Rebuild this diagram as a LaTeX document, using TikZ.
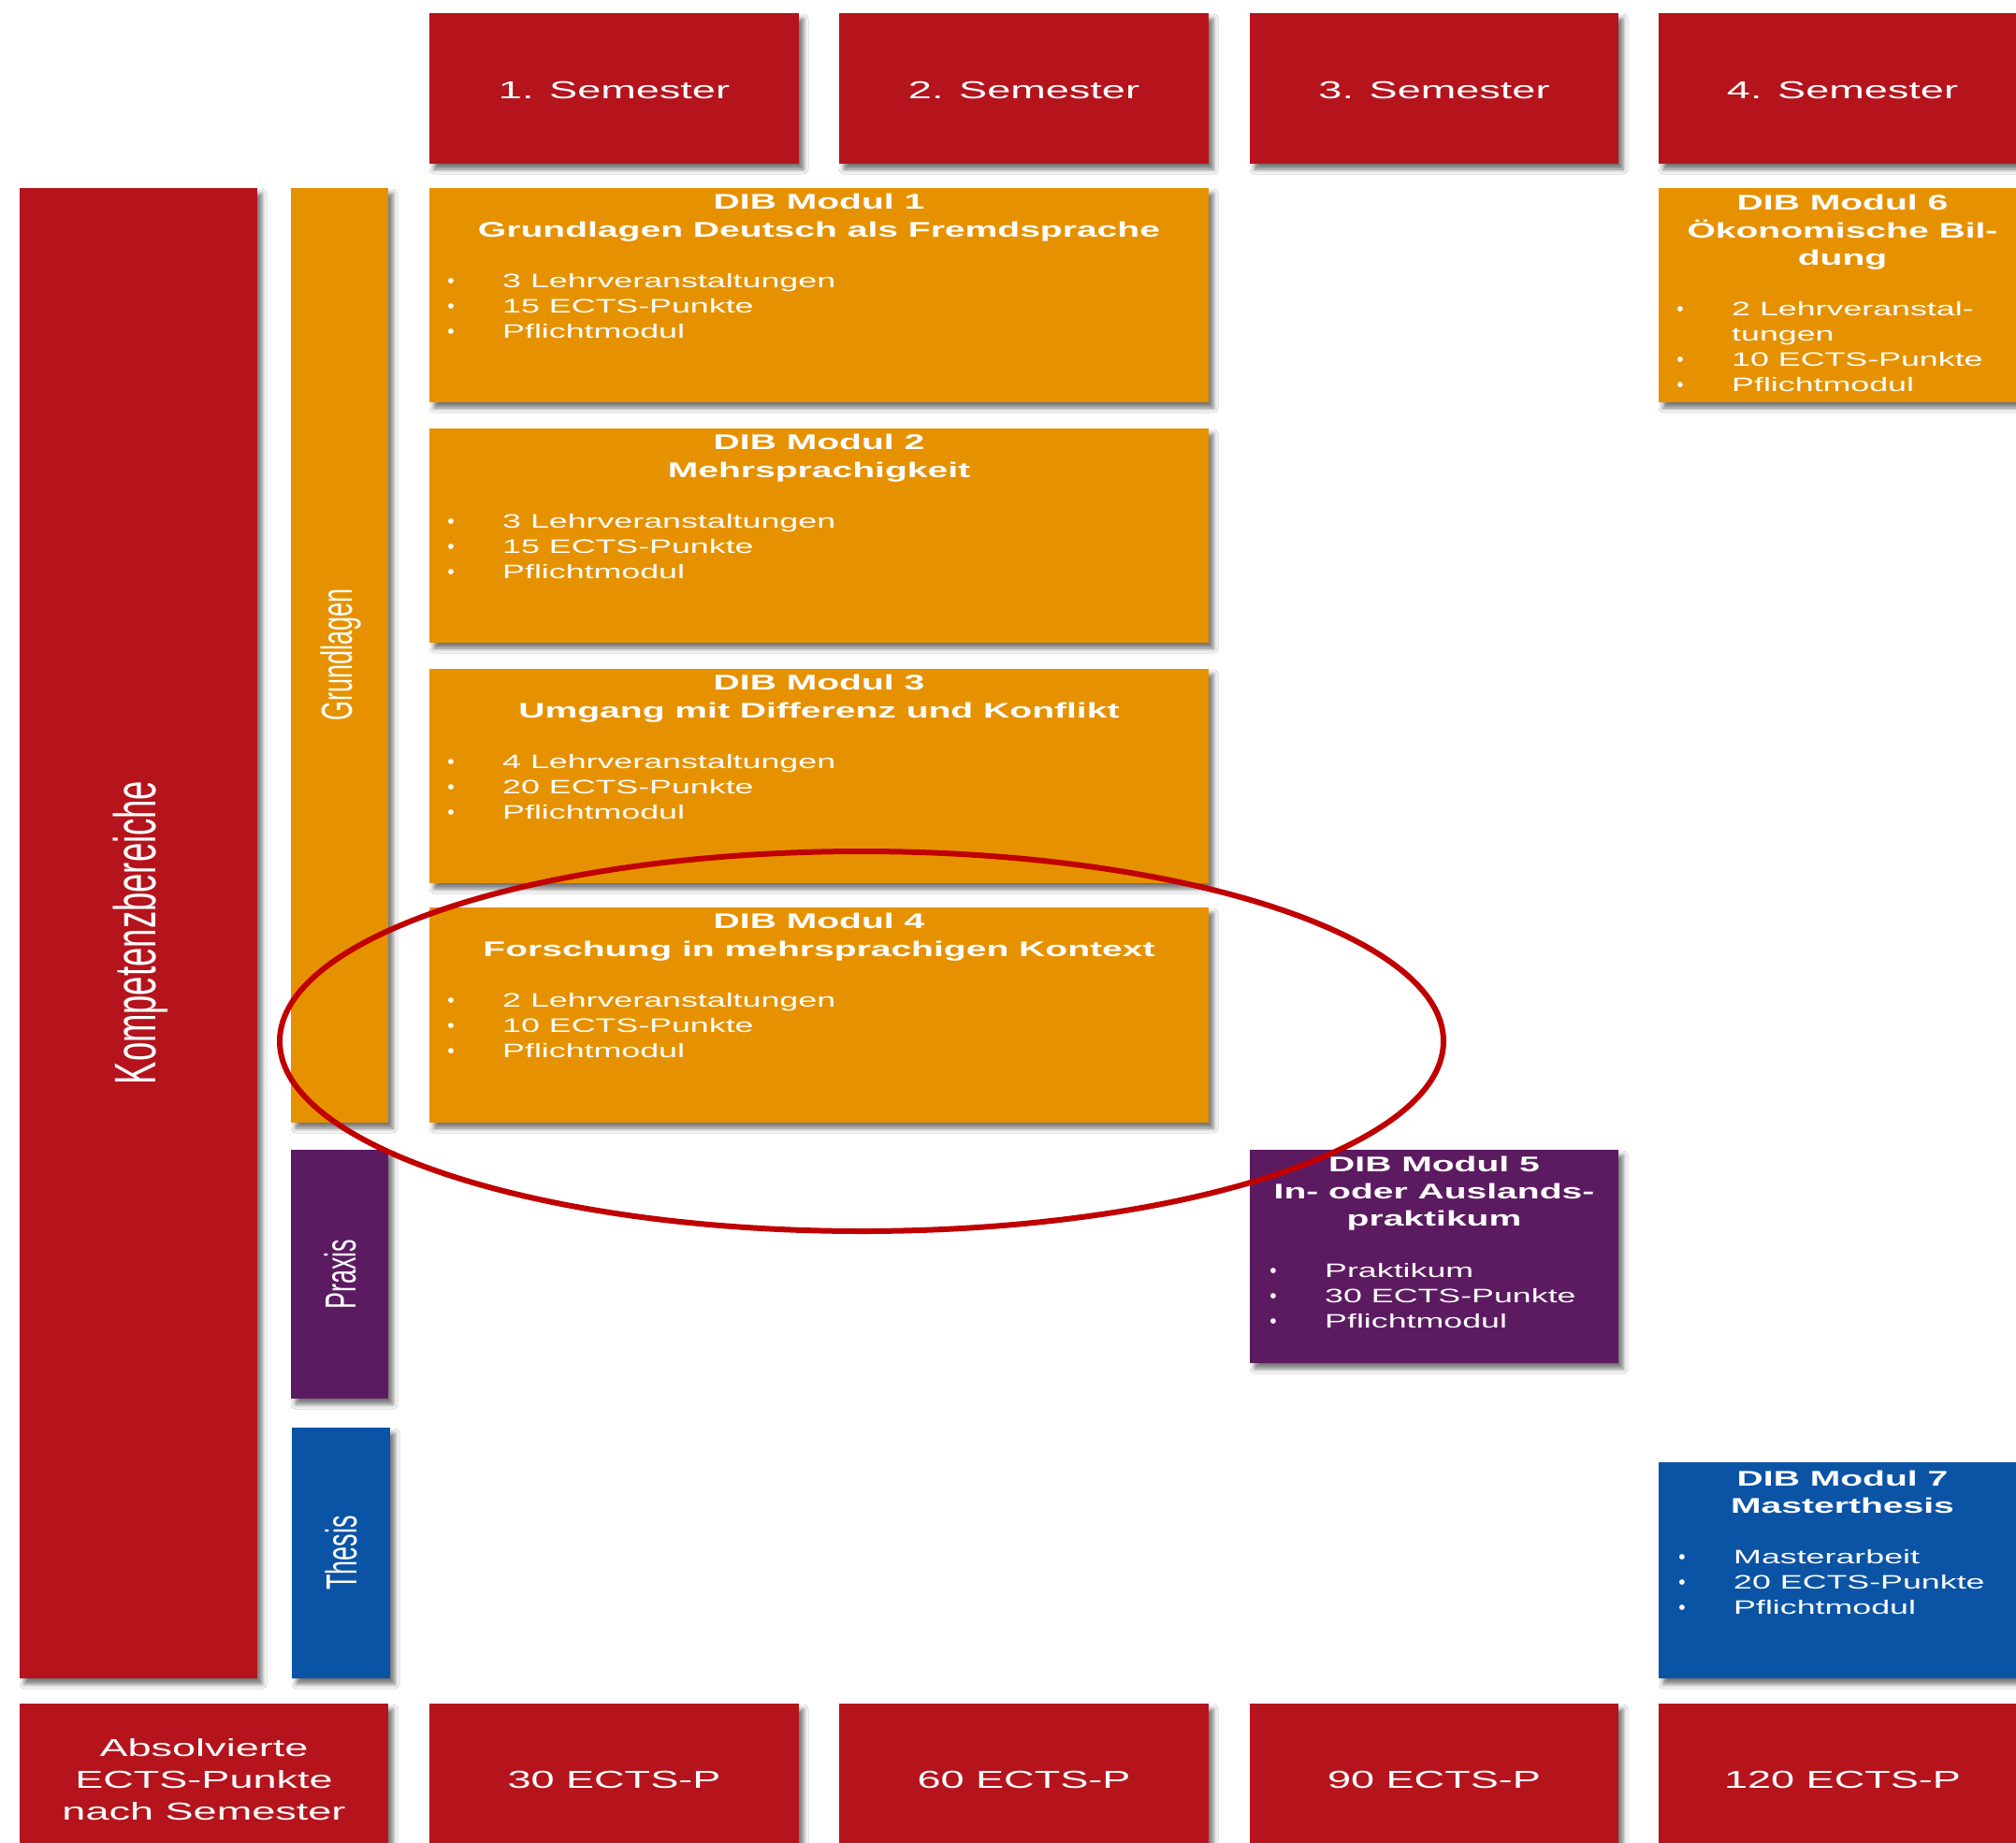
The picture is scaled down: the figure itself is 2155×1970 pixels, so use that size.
\documentclass[tikz,border=0pt]{standalone}
\usepackage{fontspec}
\setmainfont{Liberation Sans}
\newfontfamily\wf[FakeStretch=1.72]{Liberation Sans}
\usetikzlibrary{shadows.blur}
\definecolor{dibred}{HTML}{B5141D}
\definecolor{diborange}{HTML}{E69200}
\definecolor{dibpurple}{HTML}{5C1B60}
\definecolor{dibblue}{HTML}{0B54A5}
\definecolor{ringred}{HTML}{C00000}
\tikzset{
  box/.style={draw=none, inner sep=0pt, outer sep=0pt, anchor=north west,
    blur shadow={shadow xshift=5pt, shadow yshift=-6pt, shadow blur radius=5pt, shadow opacity=55}},
  redbox/.style={box, fill=dibred},
  orbox/.style={box, fill=diborange},
  pubox/.style={box, fill=dibpurple},
  blbox/.style={box, fill=dibblue},
  lbl/.style={text=white, inner sep=0pt, anchor=base, font=\wf\fontsize{26.2}{34}\selectfont},
  ttl/.style={text=white, inner sep=0pt, anchor=base, font=\wf\bfseries\fontsize{22.7}{30}\selectfont},
  itemtext/.style={text=white, inner sep=0pt, anchor=base west, font=\wf\fontsize{20.8}{27}\selectfont},
  bulletdot/.style={text=white, inner sep=0pt, anchor=base, font=\fontsize{21}{24}\selectfont},
  vlbl/.style={text=white, inner sep=0pt, anchor=center},
}
% name, box left x, baseline y, text
\newcommand\moditem[4]{%
  \node[bulletdot] (#1d) at (#2+23,#3) {•};
  \node[itemtext] (#1) at (#2+78,#3) {#4};
}
\begin{document}
\begin{tikzpicture}[x=1pt, y=-1pt]
\useasboundingbox (0,0) rectangle (2155,1970);
\fill[white] (0,0) rectangle (2155,1970);

% semester headers
\node[redbox, minimum width=395pt, minimum height=161pt] (s1) at (459,14) {};
\node[redbox, minimum width=395pt, minimum height=161pt] (s2) at (897,14) {};
\node[redbox, minimum width=394pt, minimum height=161pt] (s3) at (1336,14) {};
\node[redbox, minimum width=395pt, minimum height=161pt] (s4) at (1773,14) {};

% left bars
\node[redbox, minimum width=254pt, minimum height=1593pt] (kb) at (21,201) {};
\node[orbox, minimum width=104pt, minimum height=999pt] (gl) at (311,201) {};
\node[pubox, minimum width=104pt, minimum height=266pt] (px) at (311,1229) {};
\node[blbox, minimum width=105pt, minimum height=268pt] (th) at (312,1526) {};

% modules
\node[orbox, minimum width=833pt, minimum height=229pt] (m1) at (459,201) {};
\node[orbox, minimum width=833pt, minimum height=229pt] (m2) at (459,458) {};
\node[orbox, minimum width=833pt, minimum height=229pt] (m3) at (459,715) {};
\node[orbox, minimum width=833pt, minimum height=230pt] (m4) at (459,970) {};
\node[orbox, minimum width=395pt, minimum height=229pt] (m6) at (1773,201) {};
\node[pubox, minimum width=394pt, minimum height=228pt] (m5) at (1336,1229) {};
\node[blbox, minimum width=395pt, minimum height=231pt] (m7) at (1773,1563) {};

% bottom row
\node[redbox, minimum width=394pt, minimum height=170pt] (b0) at (21,1821) {};
\node[redbox, minimum width=395pt, minimum height=170pt] (b1) at (459,1821) {};
\node[redbox, minimum width=395pt, minimum height=170pt] (b2) at (897,1821) {};
\node[redbox, minimum width=394pt, minimum height=170pt] (b3) at (1336,1821) {};
\node[redbox, minimum width=395pt, minimum height=170pt] (b4) at (1773,1821) {};

% header texts
\node[lbl] (s1t) at (656.5,105) {1. Semester};
\node[lbl] (s2t) at (1094.5,105) {2. Semester};
\node[lbl] (s3t) at (1533,105) {3. Semester};
\node[lbl] (s4t) at (1969.5,105) {4. Semester};

% vertical labels
\node[vlbl] (kbt) at (150,997) {\scalebox{1.72}[1]{\rotatebox{90}{\fontsize{36.5}{40}\selectfont Kompetenzbereiche}}};
\node[vlbl] (glt) at (364,700) {\scalebox{1.72}[1]{\rotatebox{90}{\fontsize{27}{30}\selectfont Grundlagen}}};
\node[vlbl] (pxt) at (364,1362) {\scalebox{1.72}[1]{\rotatebox{90}{\fontsize{27}{30}\selectfont Praxis}}};
\node[vlbl] (tht) at (365,1660) {\scalebox{1.72}[1]{\rotatebox{90}{\fontsize{27}{30}\selectfont Thesis}}};

% module 1
\node[ttl] (m1a) at (875.5,223) {DIB Modul 1};
\node[ttl] (m1b) at (875.5,253) {Grundlagen Deutsch als Fremdsprache};
\moditem{m1i1}{459}{307}{3 Lehrveranstaltungen}
\moditem{m1i2}{459}{334}{15 ECTS-Punkte}
\moditem{m1i3}{459}{361}{Pflichtmodul}

% module 2
\node[ttl] (m2a) at (875.5,480) {DIB Modul 2};
\node[ttl] (m2b) at (875.5,510) {Mehrsprachigkeit};
\moditem{m2i1}{459}{564}{3 Lehrveranstaltungen}
\moditem{m2i2}{459}{591}{15 ECTS-Punkte}
\moditem{m2i3}{459}{618}{Pflichtmodul}

% module 3
\node[ttl] (m3a) at (875.5,737) {DIB Modul 3};
\node[ttl] (m3b) at (875.5,767) {Umgang mit Differenz und Konflikt};
\moditem{m3i1}{459}{821}{4 Lehrveranstaltungen}
\moditem{m3i2}{459}{848}{20 ECTS-Punkte}
\moditem{m3i3}{459}{875}{Pflichtmodul}

% module 4
\node[ttl] (m4a) at (875.5,992) {DIB Modul 4};
\node[ttl] (m4b) at (875.5,1022) {Forschung in mehrsprachigen Kontext};
\moditem{m4i1}{459}{1076}{2 Lehrveranstaltungen}
\moditem{m4i2}{459}{1103}{10 ECTS-Punkte}
\moditem{m4i3}{459}{1130}{Pflichtmodul}

% module 6
\node[ttl] (m6a) at (1969.5,224) {DIB Modul 6};
\node[ttl] (m6b) at (1969.5,254) {Ökonomische Bil-};
\node[ttl] (m6c) at (1969.5,283) {dung};
\moditem{m6i1}{1773}{337}{2 Lehrveranstal-}
\node[itemtext] (m6i1b) at (1851,364) {tungen};
\moditem{m6i2}{1773}{391}{10 ECTS-Punkte}
\moditem{m6i3}{1773}{418}{Pflichtmodul}

% module 5
\node[ttl] (m5a) at (1533,1252) {DIB Modul 5};
\node[ttl] (m5b) at (1533,1281) {In- oder Auslands-};
\node[ttl] (m5c) at (1533,1310) {praktikum};
\moditem{m5i1}{1338}{1365}{Praktikum}
\moditem{m5i2}{1338}{1392}{30 ECTS-Punkte}
\moditem{m5i3}{1338}{1419}{Pflichtmodul}

% module 7
\node[ttl] (m7a) at (1969.5,1588) {DIB Modul 7};
\node[ttl] (m7b) at (1969.5,1617) {Masterthesis};
\moditem{m7i1}{1775}{1671}{Masterarbeit}
\moditem{m7i2}{1775}{1698}{20 ECTS-Punkte}
\moditem{m7i3}{1775}{1725}{Pflichtmodul}

% bottom texts
\node[lbl] (a1) at (218,1877) {Absolvierte};
\node[lbl] (a2) at (218,1911) {ECTS-Punkte};
\node[lbl] (a3) at (218,1945) {nach Semester};
\node[lbl] (b1t) at (656.5,1911) {30 ECTS-P};
\node[lbl] (b2t) at (1094.5,1911) {60 ECTS-P};
\node[lbl] (b3t) at (1533,1911) {90 ECTS-P};
\node[lbl] (b4t) at (1969.5,1911) {120 ECTS-P};

% highlight ellipse
\draw[ringred, line width=6pt] (921,1113) ellipse [x radius=622pt, y radius=203pt];
\end{tikzpicture}
\end{document}
